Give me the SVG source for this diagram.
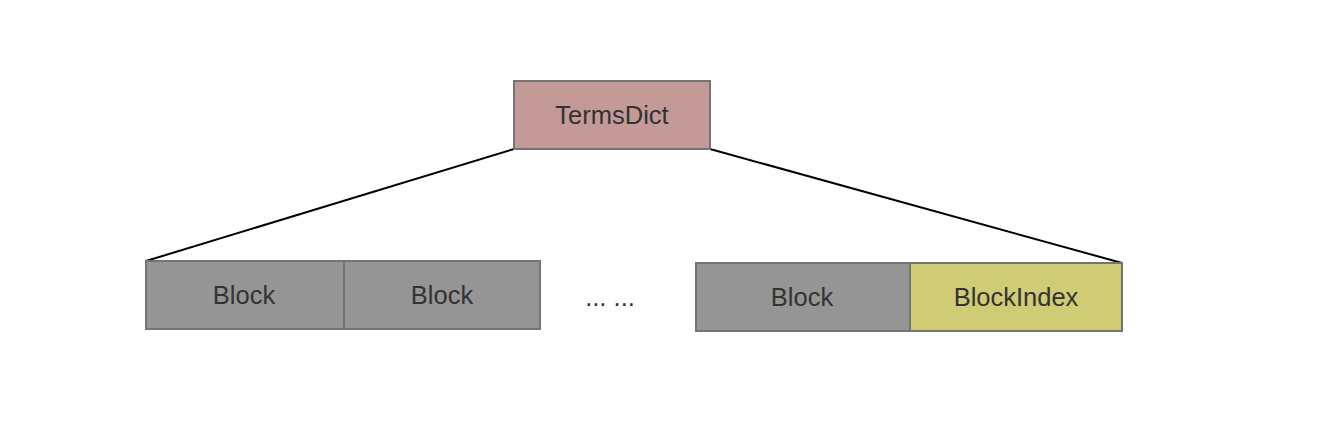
<svg xmlns="http://www.w3.org/2000/svg" width="1322" height="430" viewBox="0 0 1322 430">
<style>
.box{stroke:#747474;stroke-width:2}
.gray{fill:#959595}
.lbl{font-family:"Liberation Sans",Arial,sans-serif;font-size:25.5px;fill:#333333;text-anchor:middle;dominant-baseline:central}
.conn{stroke:#000000;stroke-width:2;fill:none}
</style>
<rect width="1322" height="430" fill="#ffffff"/>
<g id="connectors">
<line class="conn" x1="514" y1="149" x2="146" y2="261"/>
<line class="conn" x1="710" y1="149" x2="1122" y2="263"/>
</g>
<g id="termsdict">
<rect class="box" x="514" y="81" width="196" height="68" fill="#c49a98"/>
<text class="lbl" x="612" y="115">TermsDict</text>
</g>
<g id="block1">
<rect class="box gray" x="146" y="261" width="198" height="68"/>
<text class="lbl" x="244" y="295">Block</text>
</g>
<g id="block2">
<rect class="box gray" x="344" y="261" width="196" height="68"/>
<text class="lbl" x="442" y="295">Block</text>
</g>
<g id="ellipsis">
<text class="lbl" x="610" y="297">... ...</text>
</g>
<g id="block3">
<rect class="box gray" x="696" y="263" width="214" height="68"/>
<text class="lbl" x="802" y="297">Block</text>
</g>
<g id="blockindex">
<rect class="box" x="910" y="263" width="212" height="68" fill="#cfcc75"/>
<text class="lbl" x="1016" y="297">BlockIndex</text>
</g>
</svg>
